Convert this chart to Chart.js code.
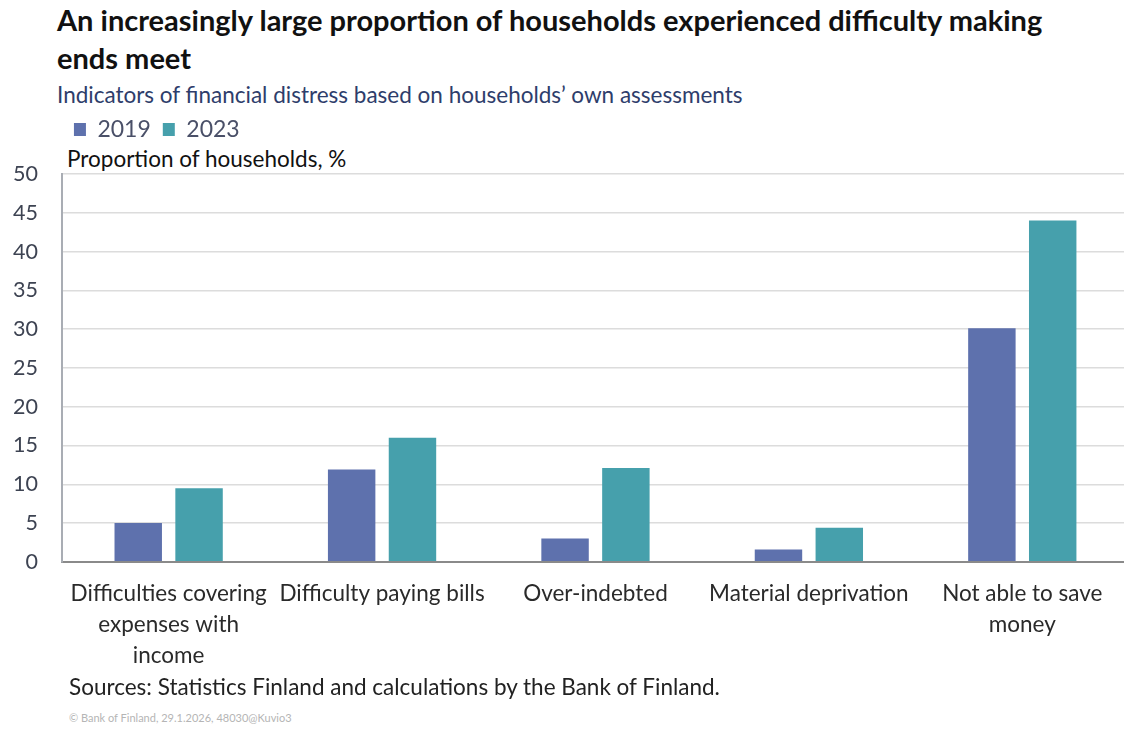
<!DOCTYPE html>
<html>
<head>
<meta charset="utf-8">
<script src="https://cdn.jsdelivr.net/npm/chart.js@4"></script>
<style>
  html, body { margin: 0; padding: 0; background: #fff; }
  body { width: 1124px; height: 729px; position: relative; overflow: hidden; font-family: Lato, "Open Sans", sans-serif; }
  .title { position: absolute; left: 57px; top: 1px; font-size: 29px; font-weight: 700; color: #111; line-height: 38px; width: 1070px; }
  .subtitle { position: absolute; left: 57px; top: 81px; font-size: 22.5px; color: #2e3d6b; }
  .ytitle { position: absolute; left: 67px; top: 145px; font-size: 22.5px; color: #111; }
  .sources { position: absolute; left: 69px; top: 673px; font-size: 22.5px; color: #222; }
  .footer { position: absolute; left: 69px; top: 711px; font-size: 11px; color: #b5b5b5; }
  #wrap { position: absolute; left: -21px; top: 106px; width: 1150px; height: 581px; }
</style>
</head>
<body>
<div class="title">An increasingly large proportion of households experienced difficulty making<br>ends meet</div>
<div class="subtitle">Indicators of financial distress based on households’ own assessments</div>
<div class="ytitle">Proportion of households, %</div>
<div id="wrap"><canvas id="chart"></canvas></div>
<div class="sources">Sources: Statistics Finland and calculations by the Bank of Finland.</div>
<div class="footer">© Bank of Finland, 29.1.2026, 48030@Kuvio3</div>

<script>
// categories and series
const categories = [
  ["Difficulties covering", "expenses with", "income"],
  "Difficulty paying bills",
  "Over-indebted",
  "Material deprivation",
  ["Not able to save", "money"]
];
const values2019 = [5.0, 11.9, 3.0, 1.6, 30.1];
const values2023 = [9.5, 16.0, 12.1, 4.4, 44.0];
const yTicks = [0, 5, 10, 15, 20, 25, 30, 35, 40, 45, 50];

// push chart area down below the legend, leaving room for the axis title
const legendGap = {
  id: "legendGap",
  beforeInit(chart) {
    const origFit = chart.legend.fit;
    chart.legend.fit = function () {
      origFit.bind(chart.legend)();
      this.height += 23;
    };
  }
};

const ctx = document.getElementById("chart").getContext("2d");
new Chart(ctx, {
  type: "bar",
  data: {
    labels: categories,
    datasets: [
      {
        label: "2019",
        data: values2019,
        backgroundColor: "#5e71ad",
        categoryPercentage: 0.57,
        barPercentage: 0.78
      },
      {
        label: "2023",
        data: values2023,
        backgroundColor: "#46a0ac",
        categoryPercentage: 0.57,
        barPercentage: 0.78
      }
    ]
  },
  options: {
    responsive: true,
    maintainAspectRatio: false,
    animation: false,
    layout: { padding: { left: 10, right: 0, top: 0, bottom: 0 } },
    plugins: {
      legend: {
        position: "top",
        align: "start",
        fullSize: false,
        labels: {
          boxWidth: 12,
          boxHeight: 13,
          padding: 12,
          color: "#4a5068",
          font: { family: "Lato", size: 23 }
        }
      },
      tooltip: { enabled: false }
    },
    scales: {
      x: {
        grid: { display: false, drawTicks: false },
        border: { color: "#8a8a8a", width: 2 },
        ticks: {
          color: "#2a2a2a",
          font: { family: "Lato", size: 22.5, lineHeight: 1.38 },
          padding: 16,
          maxRotation: 0,
          autoSkip: false
        }
      },
      y: {
        min: 0,
        max: 50,
        afterBuildTicks(scale) {
          scale.ticks = yTicks.map(v => ({ value: v }));
        },
        grid: { color: "#dcdcdc", lineWidth: 1.5, drawTicks: false },
        border: { color: "#a9adb4", width: 2 },
        ticks: {
          color: "#3d4352",
          font: { family: "Lato", size: 21.5 },
          padding: 24
        }
      }
    }
  },
  plugins: [legendGap]
});
</script>
</body>
</html>
